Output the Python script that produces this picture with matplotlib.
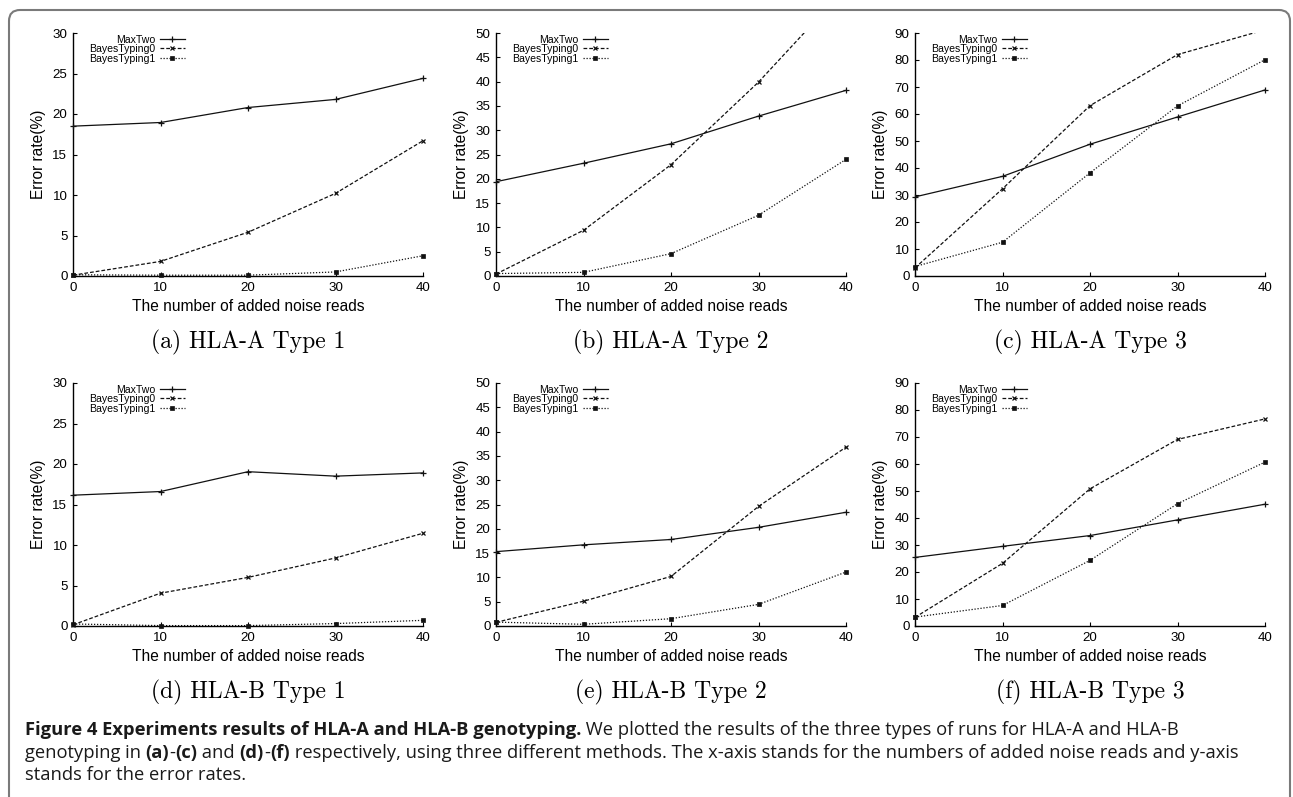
import matplotlib
matplotlib.use("Agg")
import matplotlib.pyplot as plt
from matplotlib.lines import Line2D
from matplotlib.patches import FancyBboxPatch
from matplotlib.transforms import IdentityTransform
import numpy as np

# ---------------- data ----------------
noise_reads = [0, 10, 20, 30, 40]
series_names = ["MaxTwo", "BayesTyping0", "BayesTyping1"]

# HLA-A
a1_maxtwo = [18.5, 18.95, 20.8, 21.8, 24.4]
a1_bayes0 = [0.1, 1.8, 5.4, 10.2, 16.7]
a1_bayes1 = [0.15, 0.1, 0.1, 0.5, 2.5]

a2_maxtwo = [19.4, 23.2, 27.2, 32.9, 38.2]
a2_bayes0 = [0.4, 9.4, 22.9, 39.9, 59.3]
a2_bayes1 = [0.5, 0.75, 4.6, 12.5, 24.0]

a3_maxtwo = [29.3, 36.9, 48.8, 58.9, 68.9]
a3_bayes0 = [3.0, 32.3, 63.1, 82.0, 91.2]
a3_bayes1 = [3.5, 12.5, 38.2, 63.0, 80.1]

# HLA-B
b1_maxtwo = [16.15, 16.6, 19.05, 18.5, 18.9]
b1_bayes0 = [0.15, 4.05, 6.0, 8.4, 11.45]
b1_bayes1 = [0.25, 0.05, 0.05, 0.3, 0.7]

b2_maxtwo = [15.3, 16.7, 17.8, 20.3, 23.4]
b2_bayes0 = [0.75, 5.1, 10.2, 24.6, 36.8]
b2_bayes1 = [0.8, 0.35, 1.5, 4.45, 11.1]

b3_maxtwo = [25.4, 29.5, 33.5, 39.3, 45.1]
b3_bayes0 = [3.2, 23.2, 50.8, 69.1, 76.7]
b3_bayes1 = [3.3, 7.6, 24.3, 45.3, 60.7]

y_max = [30, 50, 90, 30, 50, 90]
y_step = [5, 5, 10, 5, 5, 10]
subcaptions = ["(a) HLA-A Type 1", "(b) HLA-A Type 2", "(c) HLA-A Type 3",
               "(d) HLA-B Type 1", "(e) HLA-B Type 2", "(f) HLA-B Type 3"]
x_label = "The number of added noise reads"
y_label = "Error rate(%)"

panels = [
    (a1_maxtwo, a1_bayes0, a1_bayes1),
    (a2_maxtwo, a2_bayes0, a2_bayes1),
    (a3_maxtwo, a3_bayes0, a3_bayes1),
    (b1_maxtwo, b1_bayes0, b1_bayes1),
    (b2_maxtwo, b2_bayes0, b2_bayes1),
    (b3_maxtwo, b3_bayes0, b3_bayes1),
]

# ---------------- styles ----------------
W, H = 1293, 797
DPI = 100
SANS = ["Liberation Sans", "DejaVu Sans"]
styles = [
    dict(ls="-", marker="+", ms=5, mew=0.9, dashes=None),
    dict(ls="--", marker="x", ms=3.5, mew=0.9, dashes=(3.0, 1.6)),
    dict(ls=":", marker="s", ms=2.6, mew=0.5, dashes=(1.0, 1.4)),
]
line_color = "#111111"

fig = plt.figure(figsize=(W / DPI, H / DPI), dpi=DPI)
fig.patch.set_facecolor("white")

col_left = [73, 496, 915]
row_top = [33, 383]
ax_w, ax_h = 350, 243

for i, series in enumerate(panels):
    r, c = divmod(i, 3)
    left = col_left[c] / W
    bottom = (H - row_top[r] - ax_h) / H
    ax = fig.add_axes([left, bottom, ax_w / W, ax_h / H])
    ymax = y_max[i]
    handles = []
    for k, vals in enumerate(series):
        st = styles[k]
        ln, = ax.plot(noise_reads, vals, color=line_color, lw=0.9,
                      ls=st["ls"], clip_on=True, zorder=2)
        if st["dashes"] is not None:
            ln.set_dashes(st["dashes"])
        xs = [x for x, v in zip(noise_reads, vals) if v <= ymax]
        vs = [v for v in vals if v <= ymax]
        ax.plot(xs, vs, ls="none", marker=st["marker"], ms=st["ms"],
                mew=st["mew"], color=line_color, clip_on=False, zorder=3)
        h = Line2D([], [], color=line_color, lw=0.9, ls=st["ls"],
                   marker=st["marker"], ms=st["ms"], mew=st["mew"])
        if st["dashes"] is not None:
            h.set_dashes(st["dashes"])
        handles.append(h)

    ax.set_xlim(0, 40)
    ax.set_ylim(0, ymax)
    ax.set_xticks(noise_reads)
    ax.set_yticks(np.arange(0, ymax + 0.1, y_step[i]))
    for s in ["top", "right"]:
        ax.spines[s].set_visible(False)
    for s in ["left", "bottom"]:
        ax.spines[s].set_linewidth(1.0)
        ax.spines[s].set_color("black")
    ax.tick_params(direction="in", length=3, width=0.8, labelsize=9.6, pad=4)
    for lab in ax.get_xticklabels() + ax.get_yticklabels():
        lab.set_fontfamily(SANS)
    ax.set_xlabel(x_label, fontsize=11.2, family=SANS, labelpad=4)
    ax.set_ylabel(y_label, fontsize=11.2, family=SANS, labelpad=4.5)

    leg = ax.legend(handles, series_names, loc="upper right",
                    bbox_to_anchor=(0.32, 0.993), markerfirst=False,
                    frameon=False, prop=dict(family=SANS, size=7.6),
                    handlelength=2.4, handletextpad=0.4, labelspacing=-0.05,
                    borderpad=0, borderaxespad=0, numpoints=1)

    # subcaption
    cx = (col_left[c] + ax_w / 2) / W
    cy = (H - (342 + 350 * r)) / H
    fig.text(cx, cy, subcaptions[i], ha="center", va="center",
             family=["cmr10", "DejaVu Serif"], fontsize=17)

# ---------------- border ----------------
border = FancyBboxPatch((9, -40), 1281, H - 10 + 40,
                        boxstyle="round,pad=0,rounding_size=11",
                        transform=IdentityTransform(), fill=False,
                        edgecolor="#7a7a7a", lw=1.5)
fig.patches.append(border)

# ---------------- caption ----------------
CAP = ["Open Sans", "DejaVu Sans"]
caption_lines = [
    [("Figure 4 Experiments results of HLA-A and HLA-B genotyping.", "bold"),
     (" We plotted the results of the three types of runs for HLA-A and HLA-B", "normal")],
    [("genotyping in ", "normal"), ("(a)", "bold"), ("-", "normal"), ("(c)", "bold"),
     (" and ", "normal"), ("(d)", "bold"), ("-", "normal"), ("(f)", "bold"),
     (" respectively, using three different methods. The x-axis stands for the numbers of added noise reads and y-axis", "normal")],
    [("stands for the error rates.", "normal")],
]
renderer = fig.canvas.get_renderer()


def run_width(txt, weight, size):
    t = fig.text(0, 0, txt, family=CAP, fontweight=weight, fontsize=size)
    w = t.get_window_extent(renderer).width
    t.remove()
    return w


base = 10.0
w1 = sum(run_width(t, wgt, base) for t, wgt in caption_lines[0])
cap_size = base * (1181 - 25) / w1
line_y = [730, 753, 775]
for runs, ly in zip(caption_lines, line_y):
    x = 25
    for txt, wgt in runs:
        fig.text(x / W, (H - ly) / H, txt, family=CAP, fontweight=wgt,
                 fontsize=cap_size, va="center", ha="left", color="#1a1a1a")
        x += run_width(txt, wgt, cap_size)

fig.savefig("out.png", dpi=DPI, facecolor="white")
